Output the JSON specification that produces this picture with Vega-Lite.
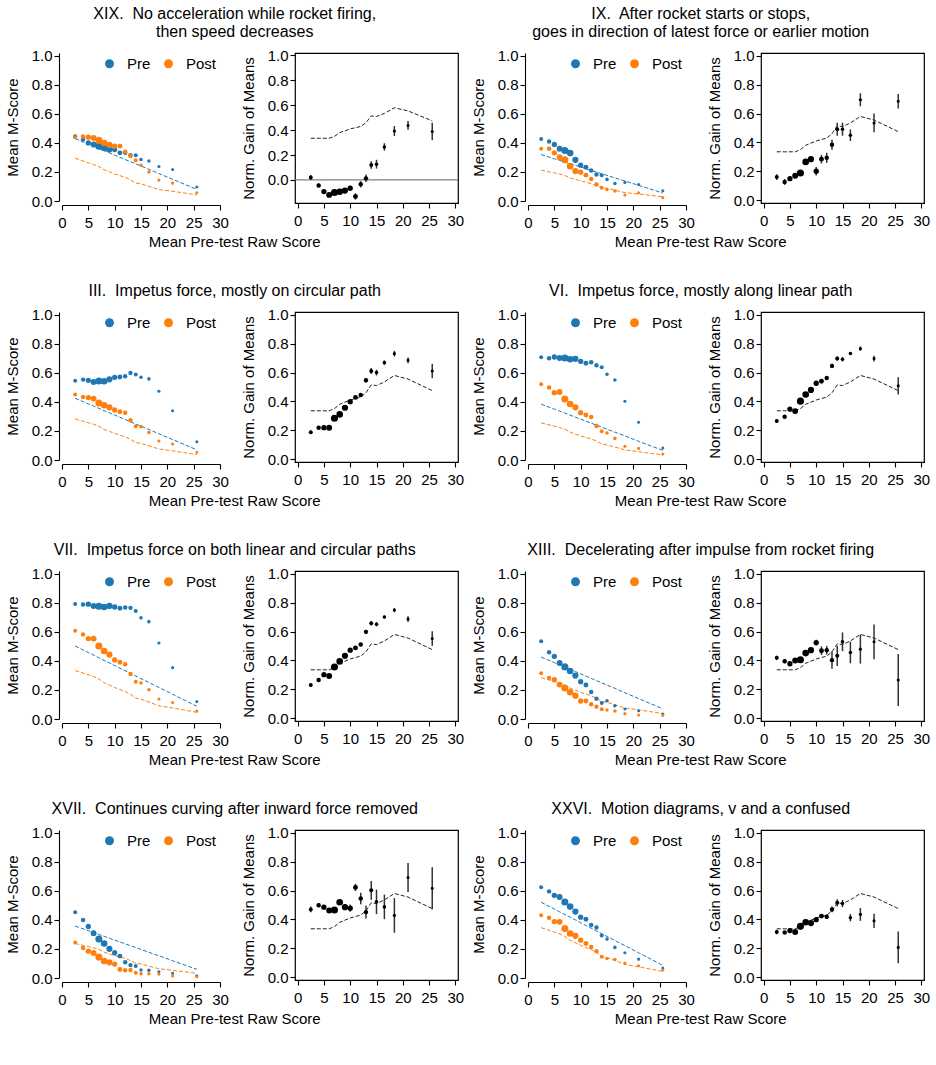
{
  "$schema": "https://vega.github.io/schema/vega-lite/v6.json",
  "background": "white",
  "padding": {"left": 5, "top": 5, "right": 5, "bottom": 5},
  "config": {
    "font": "Liberation Sans",
    "view": {"stroke": null},
    "axis": {
      "labelFont": "Liberation Sans", "labelFontSize": 15, "labelColor": "#000",
      "titleFont": "Liberation Sans", "titleFontSize": 15, "titleFontWeight": "normal", "titleColor": "#000",
      "domainColor": "#000", "domainWidth": 1.1, "tickColor": "#000", "tickWidth": 1.1, "tickSize": 5,
      "grid": false, "labelPadding": 2, "titlePadding": 11, "labelFlush": false, "labelOverlap": false
    },
    "axisX": {"labelPadding": 5},
    "legend": {
      "labelFont": "Liberation Sans", "labelFontSize": 15, "labelColor": "#000",
      "symbolSize": 80, "symbolType": "circle", "symbolStrokeWidth": 0,
      "labelOffset": 10, "columnPadding": 10, "offset": 3, "padding": 0
    },
    "title": {"font": "Liberation Sans", "fontSize": 16, "fontWeight": "normal", "color": "#000", "anchor": "middle", "lineHeight": 18, "offset": 8}
  },
  "datasets": {
    "gref": [
      {"x": 2.5, "g": 0.335}, {"x": 4, "g": 0.335}, {"x": 5, "g": 0.335}, {"x": 6, "g": 0.335},
      {"x": 7, "g": 0.35}, {"x": 8, "g": 0.38}, {"x": 9, "g": 0.395}, {"x": 10, "g": 0.41},
      {"x": 11, "g": 0.42}, {"x": 12, "g": 0.43}, {"x": 13, "g": 0.46}, {"x": 14, "g": 0.515},
      {"x": 15, "g": 0.51}, {"x": 16.5, "g": 0.535}, {"x": 18.4, "g": 0.58}, {"x": 21, "g": 0.555},
      {"x": 25.6, "g": 0.475}
    ],
    "bins": [
      {"p":"XIX","x":2.5,"n":320,"Pre":0.446,"Post":0.44,"pr":0.43,"qr":0.295,"g":0.019,"e":0.02},
      {"p":"XIX","x":4,"n":400,"Pre":0.423,"Post":0.445,"pr":0.407,"qr":0.276,"g":-0.045,"e":0.015},
      {"p":"XIX","x":5,"n":560,"Pre":0.4,"Post":0.44,"pr":0.392,"qr":0.263,"g":-0.093,"e":0.015},
      {"p":"XIX","x":6,"n":700,"Pre":0.389,"Post":0.435,"pr":0.377,"qr":0.251,"g":-0.12,"e":0.015},
      {"p":"XIX","x":7,"n":1000,"Pre":0.378,"Post":0.418,"pr":0.362,"qr":0.237,"g":-0.1,"e":0.015},
      {"p":"XIX","x":8,"n":880,"Pre":0.366,"Post":0.4,"pr":0.347,"qr":0.215,"g":-0.095,"e":0.015},
      {"p":"XIX","x":9,"n":770,"Pre":0.355,"Post":0.387,"pr":0.332,"qr":0.201,"g":-0.085,"e":0.015},
      {"p":"XIX","x":10,"n":560,"Pre":0.355,"Post":0.378,"pr":0.316,"qr":0.186,"g":-0.066,"e":0.02},
      {"p":"XIX","x":11,"n":480,"Pre":0.332,"Post":0.378,"pr":0.301,"qr":0.175,"g":-0.133,"e":0.025},
      {"p":"XIX","x":12,"n":400,"Pre":0.332,"Post":0.34,"pr":0.286,"qr":0.163,"g":-0.035,"e":0.025},
      {"p":"XIX","x":13,"n":380,"Pre":0.316,"Post":0.31,"pr":0.271,"qr":0.146,"g":0.013,"e":0.03},
      {"p":"XIX","x":14,"n":320,"Pre":0.316,"Post":0.28,"pr":0.256,"qr":0.124,"g":0.12,"e":0.03},
      {"p":"XIX","x":15,"n":250,"Pre":0.286,"Post":0.247,"pr":0.241,"qr":0.118,"g":0.127,"e":0.035},
      {"p":"XIX","x":16.5,"n":250,"Pre":0.275,"Post":0.2,"pr":0.218,"qr":0.101,"g":0.265,"e":0.03},
      {"p":"XIX","x":18.4,"n":200,"Pre":0.238,"Post":0.144,"pr":0.189,"qr":0.079,"g":0.393,"e":0.04},
      {"p":"XIX","x":21,"n":190,"Pre":0.217,"Post":0.123,"pr":0.15,"qr":0.067,"g":0.438,"e":0.035},
      {"p":"XIX","x":25.6,"n":190,"Pre":0.096,"Post":0.057,"pr":0.08,"qr":0.042,"g":0.39,"e":0.07},

      {"p":"IX","x":2.5,"n":320,"Pre":0.428,"Post":0.36,"pr":0.32,"qr":0.213,"g":0.16,"e":0.02},
      {"p":"IX","x":4,"n":400,"Pre":0.41,"Post":0.36,"pr":0.303,"qr":0.201,"g":0.126,"e":0.02},
      {"p":"IX","x":5,"n":560,"Pre":0.39,"Post":0.332,"pr":0.291,"qr":0.194,"g":0.149,"e":0.015},
      {"p":"IX","x":6,"n":700,"Pre":0.36,"Post":0.302,"pr":0.28,"qr":0.186,"g":0.169,"e":0.015},
      {"p":"IX","x":7,"n":1000,"Pre":0.348,"Post":0.284,"pr":0.268,"qr":0.176,"g":0.188,"e":0.015},
      {"p":"IX","x":8,"n":880,"Pre":0.33,"Post":0.24,"pr":0.257,"qr":0.159,"g":0.265,"e":0.015},
      {"p":"IX","x":9,"n":770,"Pre":0.284,"Post":0.206,"pr":0.246,"qr":0.149,"g":0.284,"e":0.015},
      {"p":"IX","x":10,"n":560,"Pre":0.247,"Post":0.199,"pr":0.234,"qr":0.138,"g":0.2,"e":0.03},
      {"p":"IX","x":11,"n":480,"Pre":0.233,"Post":0.178,"pr":0.222,"qr":0.129,"g":0.284,"e":0.03},
      {"p":"IX","x":12,"n":400,"Pre":0.21,"Post":0.151,"pr":0.211,"qr":0.12,"g":0.293,"e":0.035},
      {"p":"IX","x":13,"n":380,"Pre":0.183,"Post":0.114,"pr":0.199,"qr":0.107,"g":0.384,"e":0.035},
      {"p":"IX","x":14,"n":320,"Pre":0.178,"Post":0.092,"pr":0.188,"qr":0.091,"g":0.492,"e":0.045},
      {"p":"IX","x":15,"n":250,"Pre":0.149,"Post":0.08,"pr":0.177,"qr":0.087,"g":0.492,"e":0.045},
      {"p":"IX","x":16.5,"n":250,"Pre":0.121,"Post":0.069,"pr":0.159,"qr":0.074,"g":0.45,"e":0.04},
      {"p":"IX","x":18.4,"n":200,"Pre":0.128,"Post":0.041,"pr":0.138,"qr":0.058,"g":0.696,"e":0.045},
      {"p":"IX","x":21,"n":190,"Pre":0.114,"Post":0.057,"pr":0.108,"qr":0.048,"g":0.535,"e":0.065},
      {"p":"IX","x":25.6,"n":190,"Pre":0.071,"Post":0.023,"pr":0.055,"qr":0.029,"g":0.686,"e":0.05},

      {"p":"III","x":2.5,"n":320,"Pre":0.547,"Post":0.451,"pr":0.425,"qr":0.283,"g":0.186,"e":0.012},
      {"p":"III","x":4,"n":400,"Pre":0.554,"Post":0.434,"pr":0.402,"qr":0.267,"g":0.218,"e":0.01},
      {"p":"III","x":5,"n":560,"Pre":0.549,"Post":0.43,"pr":0.387,"qr":0.257,"g":0.218,"e":0.01},
      {"p":"III","x":6,"n":700,"Pre":0.538,"Post":0.423,"pr":0.371,"qr":0.247,"g":0.218,"e":0.01},
      {"p":"III","x":7,"n":1000,"Pre":0.545,"Post":0.393,"pr":0.356,"qr":0.233,"g":0.283,"e":0.01},
      {"p":"III","x":8,"n":880,"Pre":0.543,"Post":0.377,"pr":0.34,"qr":0.211,"g":0.31,"e":0.01},
      {"p":"III","x":9,"n":770,"Pre":0.556,"Post":0.363,"pr":0.325,"qr":0.197,"g":0.356,"e":0.01},
      {"p":"III","x":10,"n":560,"Pre":0.57,"Post":0.345,"pr":0.31,"qr":0.183,"g":0.398,"e":0.01},
      {"p":"III","x":11,"n":480,"Pre":0.572,"Post":0.333,"pr":0.294,"qr":0.171,"g":0.428,"e":0.01},
      {"p":"III","x":12,"n":400,"Pre":0.577,"Post":0.326,"pr":0.279,"qr":0.159,"g":0.444,"e":0.012},
      {"p":"III","x":13,"n":380,"Pre":0.6,"Post":0.274,"pr":0.263,"qr":0.142,"g":0.547,"e":0.015},
      {"p":"III","x":14,"n":320,"Pre":0.589,"Post":0.232,"pr":0.248,"qr":0.12,"g":0.611,"e":0.02},
      {"p":"III","x":15,"n":250,"Pre":0.57,"Post":0.23,"pr":0.233,"qr":0.114,"g":0.6,"e":0.02},
      {"p":"III","x":16.5,"n":250,"Pre":0.559,"Post":0.189,"pr":0.21,"qr":0.098,"g":0.669,"e":0.015},
      {"p":"III","x":18.4,"n":200,"Pre":0.474,"Post":0.131,"pr":0.181,"qr":0.076,"g":0.731,"e":0.02},
      {"p":"III","x":21,"n":190,"Pre":0.34,"Post":0.11,"pr":0.141,"qr":0.063,"g":0.685,"e":0.02},
      {"p":"III","x":25.6,"n":190,"Pre":0.126,"Post":0.053,"pr":0.07,"qr":0.037,"g":0.611,"e":0.05},

      {"p":"VI","x":2.5,"n":320,"Pre":0.708,"Post":0.522,"pr":0.385,"qr":0.256,"g":0.264,"e":0.01},
      {"p":"VI","x":4,"n":400,"Pre":0.701,"Post":0.499,"pr":0.364,"qr":0.242,"g":0.294,"e":0.01},
      {"p":"VI","x":5,"n":560,"Pre":0.71,"Post":0.464,"pr":0.351,"qr":0.233,"g":0.347,"e":0.01},
      {"p":"VI","x":6,"n":700,"Pre":0.703,"Post":0.469,"pr":0.337,"qr":0.224,"g":0.333,"e":0.01},
      {"p":"VI","x":7,"n":1000,"Pre":0.703,"Post":0.421,"pr":0.323,"qr":0.212,"g":0.402,"e":0.01},
      {"p":"VI","x":8,"n":880,"Pre":0.694,"Post":0.386,"pr":0.309,"qr":0.192,"g":0.448,"e":0.01},
      {"p":"VI","x":9,"n":770,"Pre":0.697,"Post":0.363,"pr":0.295,"qr":0.178,"g":0.48,"e":0.01},
      {"p":"VI","x":10,"n":560,"Pre":0.68,"Post":0.326,"pr":0.281,"qr":0.166,"g":0.526,"e":0.01},
      {"p":"VI","x":11,"n":480,"Pre":0.667,"Post":0.31,"pr":0.268,"qr":0.155,"g":0.54,"e":0.01},
      {"p":"VI","x":12,"n":400,"Pre":0.674,"Post":0.297,"pr":0.254,"qr":0.145,"g":0.563,"e":0.01},
      {"p":"VI","x":13,"n":380,"Pre":0.653,"Post":0.234,"pr":0.24,"qr":0.13,"g":0.646,"e":0.015},
      {"p":"VI","x":14,"n":320,"Pre":0.639,"Post":0.198,"pr":0.226,"qr":0.11,"g":0.697,"e":0.015},
      {"p":"VI","x":15,"n":250,"Pre":0.591,"Post":0.186,"pr":0.212,"qr":0.104,"g":0.692,"e":0.015},
      {"p":"VI","x":16.5,"n":250,"Pre":0.552,"Post":0.149,"pr":0.192,"qr":0.089,"g":0.733,"e":0.01},
      {"p":"VI","x":18.4,"n":200,"Pre":0.405,"Post":0.094,"pr":0.166,"qr":0.07,"g":0.766,"e":0.015},
      {"p":"VI","x":21,"n":190,"Pre":0.26,"Post":0.08,"pr":0.129,"qr":0.057,"g":0.697,"e":0.02},
      {"p":"VI","x":25.6,"n":190,"Pre":0.083,"Post":0.041,"pr":0.066,"qr":0.035,"g":0.508,"e":0.06},

      {"p":"VII","x":2.5,"n":320,"Pre":0.793,"Post":0.609,"pr":0.503,"qr":0.334,"g":0.23,"e":0.01},
      {"p":"VII","x":4,"n":400,"Pre":0.789,"Post":0.582,"pr":0.476,"qr":0.317,"g":0.264,"e":0.01},
      {"p":"VII","x":5,"n":560,"Pre":0.791,"Post":0.554,"pr":0.458,"qr":0.305,"g":0.301,"e":0.01},
      {"p":"VII","x":6,"n":700,"Pre":0.779,"Post":0.554,"pr":0.44,"qr":0.293,"g":0.292,"e":0.01},
      {"p":"VII","x":7,"n":1000,"Pre":0.777,"Post":0.503,"pr":0.422,"qr":0.276,"g":0.354,"e":0.01},
      {"p":"VII","x":8,"n":880,"Pre":0.772,"Post":0.469,"pr":0.404,"qr":0.25,"g":0.393,"e":0.01},
      {"p":"VII","x":9,"n":770,"Pre":0.779,"Post":0.444,"pr":0.386,"qr":0.234,"g":0.432,"e":0.01},
      {"p":"VII","x":10,"n":560,"Pre":0.772,"Post":0.407,"pr":0.368,"qr":0.217,"g":0.471,"e":0.01},
      {"p":"VII","x":11,"n":480,"Pre":0.763,"Post":0.391,"pr":0.35,"qr":0.203,"g":0.487,"e":0.01},
      {"p":"VII","x":12,"n":400,"Pre":0.768,"Post":0.377,"pr":0.332,"qr":0.189,"g":0.51,"e":0.01},
      {"p":"VII","x":13,"n":380,"Pre":0.766,"Post":0.31,"pr":0.314,"qr":0.17,"g":0.598,"e":0.015},
      {"p":"VII","x":14,"n":320,"Pre":0.745,"Post":0.257,"pr":0.296,"qr":0.144,"g":0.657,"e":0.015},
      {"p":"VII","x":15,"n":250,"Pre":0.697,"Post":0.248,"pr":0.278,"qr":0.136,"g":0.651,"e":0.015},
      {"p":"VII","x":16.5,"n":250,"Pre":0.671,"Post":0.202,"pr":0.252,"qr":0.117,"g":0.701,"e":0.01},
      {"p":"VII","x":18.4,"n":200,"Pre":0.524,"Post":0.138,"pr":0.217,"qr":0.091,"g":0.749,"e":0.015},
      {"p":"VII","x":21,"n":190,"Pre":0.354,"Post":0.113,"pr":0.171,"qr":0.076,"g":0.687,"e":0.02},
      {"p":"VII","x":25.6,"n":190,"Pre":0.12,"Post":0.055,"pr":0.088,"qr":0.046,"g":0.552,"e":0.05},

      {"p":"XIII","x":2.5,"n":320,"Pre":0.536,"Post":0.315,"pr":0.427,"qr":0.284,"g":0.418,"e":0.015},
      {"p":"XIII","x":4,"n":400,"Pre":0.46,"Post":0.283,"pr":0.404,"qr":0.269,"g":0.395,"e":0.015},
      {"p":"XIII","x":5,"n":560,"Pre":0.432,"Post":0.271,"pr":0.388,"qr":0.258,"g":0.377,"e":0.015},
      {"p":"XIII","x":6,"n":700,"Pre":0.386,"Post":0.237,"pr":0.373,"qr":0.248,"g":0.4,"e":0.015},
      {"p":"XIII","x":7,"n":1000,"Pre":0.359,"Post":0.214,"pr":0.357,"qr":0.234,"g":0.405,"e":0.015},
      {"p":"XIII","x":8,"n":880,"Pre":0.331,"Post":0.184,"pr":0.342,"qr":0.212,"g":0.451,"e":0.015},
      {"p":"XIII","x":9,"n":770,"Pre":0.299,"Post":0.161,"pr":0.327,"qr":0.198,"g":0.471,"e":0.015},
      {"p":"XIII","x":10,"n":560,"Pre":0.257,"Post":0.124,"pr":0.311,"qr":0.183,"g":0.524,"e":0.02},
      {"p":"XIII","x":11,"n":480,"Pre":0.234,"Post":0.124,"pr":0.296,"qr":0.172,"g":0.467,"e":0.03},
      {"p":"XIII","x":12,"n":400,"Pre":0.186,"Post":0.101,"pr":0.28,"qr":0.16,"g":0.471,"e":0.03},
      {"p":"XIII","x":13,"n":380,"Pre":0.14,"Post":0.085,"pr":0.265,"qr":0.143,"g":0.402,"e":0.06},
      {"p":"XIII","x":14,"n":320,"Pre":0.11,"Post":0.067,"pr":0.249,"qr":0.121,"g":0.432,"e":0.07},
      {"p":"XIII","x":15,"n":250,"Pre":0.126,"Post":0.062,"pr":0.234,"qr":0.115,"g":0.529,"e":0.065},
      {"p":"XIII","x":16.5,"n":250,"Pre":0.092,"Post":0.055,"pr":0.211,"qr":0.098,"g":0.455,"e":0.075},
      {"p":"XIII","x":18.4,"n":200,"Pre":0.069,"Post":0.037,"pr":0.181,"qr":0.076,"g":0.478,"e":0.1},
      {"p":"XIII","x":21,"n":190,"Pre":0.057,"Post":0.028,"pr":0.141,"qr":0.063,"g":0.529,"e":0.12},
      {"p":"XIII","x":25.6,"n":190,"Pre":0.034,"Post":0.025,"pr":0.07,"qr":0.037,"g":0.264,"e":0.18},

      {"p":"XVII","x":2.5,"n":320,"Pre":0.453,"Post":0.245,"pr":0.358,"qr":0.238,"g":0.469,"e":0.02},
      {"p":"XVII","x":4,"n":400,"Pre":0.4,"Post":0.206,"pr":0.339,"qr":0.225,"g":0.499,"e":0.015},
      {"p":"XVII","x":5,"n":560,"Pre":0.355,"Post":0.185,"pr":0.326,"qr":0.217,"g":0.485,"e":0.015},
      {"p":"XVII","x":6,"n":700,"Pre":0.309,"Post":0.172,"pr":0.313,"qr":0.208,"g":0.462,"e":0.015},
      {"p":"XVII","x":7,"n":1000,"Pre":0.268,"Post":0.144,"pr":0.3,"qr":0.197,"g":0.465,"e":0.015},
      {"p":"XVII","x":8,"n":880,"Pre":0.238,"Post":0.117,"pr":0.287,"qr":0.178,"g":0.519,"e":0.015},
      {"p":"XVII","x":9,"n":770,"Pre":0.201,"Post":0.108,"pr":0.274,"qr":0.166,"g":0.485,"e":0.02},
      {"p":"XVII","x":10,"n":560,"Pre":0.174,"Post":0.096,"pr":0.261,"qr":0.154,"g":0.478,"e":0.025},
      {"p":"XVII","x":11,"n":480,"Pre":0.151,"Post":0.059,"pr":0.248,"qr":0.144,"g":0.622,"e":0.025},
      {"p":"XVII","x":12,"n":400,"Pre":0.108,"Post":0.053,"pr":0.236,"qr":0.135,"g":0.545,"e":0.04},
      {"p":"XVII","x":13,"n":380,"Pre":0.089,"Post":0.055,"pr":0.223,"qr":0.12,"g":0.451,"e":0.045},
      {"p":"XVII","x":14,"n":320,"Pre":0.082,"Post":0.037,"pr":0.21,"qr":0.102,"g":0.602,"e":0.065},
      {"p":"XVII","x":15,"n":250,"Pre":0.055,"Post":0.03,"pr":0.197,"qr":0.097,"g":0.522,"e":0.085},
      {"p":"XVII","x":16.5,"n":250,"Pre":0.053,"Post":0.03,"pr":0.177,"qr":0.082,"g":0.487,"e":0.085},
      {"p":"XVII","x":18.4,"n":200,"Pre":0.043,"Post":0.027,"pr":0.153,"qr":0.064,"g":0.428,"e":0.12},
      {"p":"XVII","x":21,"n":190,"Pre":0.032,"Post":0.014,"pr":0.119,"qr":0.053,"g":0.691,"e":0.1},
      {"p":"XVII","x":25.6,"n":190,"Pre":0.016,"Post":0.009,"pr":0.06,"qr":0.032,"g":0.616,"e":0.145},

      {"p":"XXVI","x":2.5,"n":320,"Pre":0.625,"Post":0.432,"pr":0.522,"qr":0.347,"g":0.313,"e":0.015},
      {"p":"XXVI","x":4,"n":400,"Pre":0.597,"Post":0.416,"pr":0.494,"qr":0.329,"g":0.309,"e":0.01},
      {"p":"XXVI","x":5,"n":560,"Pre":0.57,"Post":0.389,"pr":0.475,"qr":0.316,"g":0.323,"e":0.01},
      {"p":"XXVI","x":6,"n":700,"Pre":0.558,"Post":0.387,"pr":0.456,"qr":0.303,"g":0.313,"e":0.01},
      {"p":"XXVI","x":7,"n":1000,"Pre":0.524,"Post":0.341,"pr":0.437,"qr":0.286,"g":0.352,"e":0.01},
      {"p":"XXVI","x":8,"n":880,"Pre":0.492,"Post":0.307,"pr":0.419,"qr":0.26,"g":0.38,"e":0.01},
      {"p":"XXVI","x":9,"n":770,"Pre":0.458,"Post":0.291,"pr":0.4,"qr":0.242,"g":0.375,"e":0.01},
      {"p":"XXVI","x":10,"n":560,"Pre":0.419,"Post":0.261,"pr":0.381,"qr":0.225,"g":0.398,"e":0.01},
      {"p":"XXVI","x":11,"n":480,"Pre":0.405,"Post":0.238,"pr":0.362,"qr":0.21,"g":0.423,"e":0.01},
      {"p":"XXVI","x":12,"n":400,"Pre":0.366,"Post":0.213,"pr":0.343,"qr":0.196,"g":0.419,"e":0.015},
      {"p":"XXVI","x":13,"n":380,"Pre":0.348,"Post":0.185,"pr":0.324,"qr":0.175,"g":0.469,"e":0.02},
      {"p":"XXVI","x":14,"n":320,"Pre":0.293,"Post":0.146,"pr":0.305,"qr":0.148,"g":0.515,"e":0.025},
      {"p":"XXVI","x":15,"n":250,"Pre":0.268,"Post":0.135,"pr":0.287,"qr":0.141,"g":0.51,"e":0.025},
      {"p":"XXVI","x":16.5,"n":250,"Pre":0.211,"Post":0.128,"pr":0.258,"qr":0.12,"g":0.412,"e":0.025},
      {"p":"XXVI","x":18.4,"n":200,"Pre":0.174,"Post":0.103,"pr":0.223,"qr":0.094,"g":0.435,"e":0.045},
      {"p":"XXVI","x":21,"n":190,"Pre":0.13,"Post":0.085,"pr":0.174,"qr":0.077,"g":0.39,"e":0.05},
      {"p":"XXVI","x":25.6,"n":190,"Pre":0.069,"Post":0.055,"pr":0.087,"qr":0.046,"g":0.206,"e":0.11}
    ]
  },
  "spacing": 33,
  "resolve": {"scale": {"x": "independent", "y": "independent", "color": "independent", "size": "independent"}, "legend": {"color": "independent", "size": "independent"}},
  "vconcat": [
    {
      "spacing": 6,
      "resolve": {"scale": {"x": "independent", "y": "independent", "color": "independent", "size": "independent"}, "legend": {"color": "independent", "size": "independent"}},
      "hconcat": [
        {
          "title": {"text": ["XIX.\u00a0 No acceleration while rocket firing,", "then speed decreases"], "anchor": "middle"},
          "resolve": {"scale": {"x": "independent", "y": "independent", "color": "independent", "size": "independent"}, "legend": {"color": "independent", "size": "independent"}},
          "vconcat": [
            {
              "title": {"text": "Mean Pre-test Raw Score", "orient": "bottom", "fontSize": 15, "offset": 5, "anchor": "middle"},
              "spacing": 11,
              "resolve": {"scale": {"x": "independent", "y": "independent", "color": "independent", "size": "independent"}, "legend": {"color": "independent", "size": "independent"}},
              "hconcat": [
                {
                  "width": 158, "height": 148,
                  "data": {"name": "bins"},
                  "transform": [{"filter": "datum.p === 'XIX'"}],
                  "encoding": {"x": {"field": "x", "type": "quantitative", "scale": {"domain": [0, 30], "nice": false, "zero": false}, "axis": {"values": [0, 5, 10, 15, 20, 25, 30], "title": null, "offset": 4}}},
                  "layer": [
                    {"mark": {"type": "line", "color": "#1f77b4", "strokeWidth": 1, "strokeDash": [4, 2]},
                     "encoding": {"y": {"field": "pr", "type": "quantitative", "scale": {"domain": [0, 1.02], "nice": false, "zero": false}, "axis": {"values": [0, 0.2, 0.4, 0.6, 0.8, 1], "format": ".1f", "offset": 3, "title": "Mean M-Score"}}}},
                    {"mark": {"type": "line", "color": "#ff7f0e", "strokeWidth": 1, "strokeDash": [4, 2]},
                     "encoding": {"y": {"field": "qr", "type": "quantitative", "axis": {"values": [0, 0.2, 0.4, 0.6, 0.8, 1], "format": ".1f", "offset": 3, "title": "Mean M-Score"}}}},
                    {"transform": [{"fold": ["Pre", "Post"], "as": ["series", "score"]}],
                     "mark": {"type": "circle", "opacity": 1},
                     "encoding": {
                       "y": {"field": "score", "type": "quantitative", "axis": {"values": [0, 0.2, 0.4, 0.6, 0.8, 1], "format": ".1f", "offset": 3, "title": "Mean M-Score"}},
                       "color": {"field": "series", "type": "nominal", "scale": {"domain": ["Pre", "Post"], "range": ["#1f77b4", "#ff7f0e"]}, "legend": {"orient": "top-right", "direction": "horizontal", "title": null}},
                       "size": {"field": "n", "type": "quantitative", "scale": {"domain": [0, 1000], "range": [0, 50]}, "legend": null}}}
                  ]
                },
                {
                  "width": 163, "height": 150,
                  "view": {"stroke": "#000", "strokeWidth": 1.2},
                  "layer": [
                    {"data": {"values": [{}]},
                     "mark": {"type": "rule", "color": "#808080", "strokeWidth": 1.2},
                     "encoding": {"y": {"datum": 0, "type": "quantitative", "scale": {"domain": [-0.185, 1.02], "nice": false, "zero": false}, "axis": {"values": [0, 0.2, 0.4, 0.6, 0.8, 1], "format": ".1f", "title": "Norm. Gain of Means", "domain": false}}}},
                    {"data": {"name": "gref"},
                     "mark": {"type": "line", "color": "#222", "strokeWidth": 1, "strokeDash": [4, 2]},
                     "encoding": {
                       "x": {"field": "x", "type": "quantitative", "scale": {"domain": [-0.5, 30.5], "nice": false, "zero": false}, "axis": {"values": [0, 5, 10, 15, 20, 25, 30], "title": null, "domain": false}},
                       "y": {"field": "g", "type": "quantitative", "axis": {"values": [0, 0.2, 0.4, 0.6, 0.8, 1], "format": ".1f", "title": "Norm. Gain of Means", "domain": false}}}},
                    {"data": {"name": "bins"},
                     "transform": [{"filter": "datum.p === 'XIX'"}],
                     "mark": {"type": "errorbar", "color": "#333", "thickness": 1.5},
                     "encoding": {
                       "x": {"field": "x", "type": "quantitative", "axis": {"values": [0, 5, 10, 15, 20, 25, 30], "title": null, "domain": false}},
                       "y": {"field": "g", "type": "quantitative", "axis": {"values": [0, 0.2, 0.4, 0.6, 0.8, 1], "format": ".1f", "title": "Norm. Gain of Means", "domain": false}},
                       "yError": {"field": "e"}}},
                    {"data": {"name": "bins"},
                     "transform": [{"filter": "datum.p === 'XIX'"}],
                     "mark": {"type": "circle", "color": "#000", "opacity": 1},
                     "encoding": {
                       "x": {"field": "x", "type": "quantitative", "axis": {"values": [0, 5, 10, 15, 20, 25, 30], "title": null, "domain": false}},
                       "y": {"field": "g", "type": "quantitative", "axis": {"values": [0, 0.2, 0.4, 0.6, 0.8, 1], "format": ".1f", "title": "Norm. Gain of Means", "domain": false}},
                       "size": {"field": "n", "type": "quantitative", "scale": {"domain": [0, 1000], "range": [0, 50]}, "legend": null}}}
                  ]
                }
              ]
            }
          ]
        },
        {
          "title": {"text": ["IX.\u00a0 After rocket starts or stops,", "goes in direction of latest force or earlier motion"], "anchor": "middle"},
          "resolve": {"scale": {"x": "independent", "y": "independent", "color": "independent", "size": "independent"}, "legend": {"color": "independent", "size": "independent"}},
          "vconcat": [
            {
              "title": {"text": "Mean Pre-test Raw Score", "orient": "bottom", "fontSize": 15, "offset": 5, "anchor": "middle"},
              "spacing": 11,
              "resolve": {"scale": {"x": "independent", "y": "independent", "color": "independent", "size": "independent"}, "legend": {"color": "independent", "size": "independent"}},
              "hconcat": [
                {
                  "width": 158, "height": 148,
                  "data": {"name": "bins"},
                  "transform": [{"filter": "datum.p === 'IX'"}],
                  "encoding": {"x": {"field": "x", "type": "quantitative", "scale": {"domain": [0, 30], "nice": false, "zero": false}, "axis": {"values": [0, 5, 10, 15, 20, 25, 30], "title": null, "offset": 4}}},
                  "layer": [
                    {"mark": {"type": "line", "color": "#1f77b4", "strokeWidth": 1, "strokeDash": [4, 2]},
                     "encoding": {"y": {"field": "pr", "type": "quantitative", "scale": {"domain": [0, 1.02], "nice": false, "zero": false}, "axis": {"values": [0, 0.2, 0.4, 0.6, 0.8, 1], "format": ".1f", "offset": 3, "title": "Mean M-Score"}}}},
                    {"mark": {"type": "line", "color": "#ff7f0e", "strokeWidth": 1, "strokeDash": [4, 2]},
                     "encoding": {"y": {"field": "qr", "type": "quantitative", "axis": {"values": [0, 0.2, 0.4, 0.6, 0.8, 1], "format": ".1f", "offset": 3, "title": "Mean M-Score"}}}},
                    {"transform": [{"fold": ["Pre", "Post"], "as": ["series", "score"]}],
                     "mark": {"type": "circle", "opacity": 1},
                     "encoding": {
                       "y": {"field": "score", "type": "quantitative", "axis": {"values": [0, 0.2, 0.4, 0.6, 0.8, 1], "format": ".1f", "offset": 3, "title": "Mean M-Score"}},
                       "color": {"field": "series", "type": "nominal", "scale": {"domain": ["Pre", "Post"], "range": ["#1f77b4", "#ff7f0e"]}, "legend": {"orient": "top-right", "direction": "horizontal", "title": null}},
                       "size": {"field": "n", "type": "quantitative", "scale": {"domain": [0, 1000], "range": [0, 50]}, "legend": null}}}
                  ]
                },
                {
                  "width": 163, "height": 150,
                  "view": {"stroke": "#000", "strokeWidth": 1.2},
                  "layer": [
                    {"data": {"name": "gref"},
                     "mark": {"type": "line", "color": "#222", "strokeWidth": 1, "strokeDash": [4, 2]},
                     "encoding": {
                       "x": {"field": "x", "type": "quantitative", "scale": {"domain": [-0.5, 30.5], "nice": false, "zero": false}, "axis": {"values": [0, 5, 10, 15, 20, 25, 30], "title": null, "domain": false}},
                       "y": {"field": "g", "type": "quantitative", "scale": {"domain": [-0.02, 1.02], "nice": false, "zero": false}, "axis": {"values": [0, 0.2, 0.4, 0.6, 0.8, 1], "format": ".1f", "title": "Norm. Gain of Means", "domain": false}}}},
                    {"data": {"name": "bins"},
                     "transform": [{"filter": "datum.p === 'IX'"}],
                     "mark": {"type": "errorbar", "color": "#333", "thickness": 1.5},
                     "encoding": {
                       "x": {"field": "x", "type": "quantitative", "axis": {"values": [0, 5, 10, 15, 20, 25, 30], "title": null, "domain": false}},
                       "y": {"field": "g", "type": "quantitative", "axis": {"values": [0, 0.2, 0.4, 0.6, 0.8, 1], "format": ".1f", "title": "Norm. Gain of Means", "domain": false}},
                       "yError": {"field": "e"}}},
                    {"data": {"name": "bins"},
                     "transform": [{"filter": "datum.p === 'IX'"}],
                     "mark": {"type": "circle", "color": "#000", "opacity": 1},
                     "encoding": {
                       "x": {"field": "x", "type": "quantitative", "axis": {"values": [0, 5, 10, 15, 20, 25, 30], "title": null, "domain": false}},
                       "y": {"field": "g", "type": "quantitative", "axis": {"values": [0, 0.2, 0.4, 0.6, 0.8, 1], "format": ".1f", "title": "Norm. Gain of Means", "domain": false}},
                       "size": {"field": "n", "type": "quantitative", "scale": {"domain": [0, 1000], "range": [0, 50]}, "legend": null}}}
                  ]
                }
              ]
            }
          ]
        }
      ]
    },
    {
      "spacing": 6,
      "resolve": {"scale": {"x": "independent", "y": "independent", "color": "independent", "size": "independent"}, "legend": {"color": "independent", "size": "independent"}},
      "hconcat": [
        {
          "title": {"text": "III.\u00a0 Impetus force, mostly on circular path", "anchor": "middle"},
          "resolve": {"scale": {"x": "independent", "y": "independent", "color": "independent", "size": "independent"}, "legend": {"color": "independent", "size": "independent"}},
          "vconcat": [
            {
              "title": {"text": "Mean Pre-test Raw Score", "orient": "bottom", "fontSize": 15, "offset": 5, "anchor": "middle"},
              "spacing": 11,
              "resolve": {"scale": {"x": "independent", "y": "independent", "color": "independent", "size": "independent"}, "legend": {"color": "independent", "size": "independent"}},
              "hconcat": [
                {
                  "width": 158, "height": 148,
                  "data": {"name": "bins"},
                  "transform": [{"filter": "datum.p === 'III'"}],
                  "encoding": {"x": {"field": "x", "type": "quantitative", "scale": {"domain": [0, 30], "nice": false, "zero": false}, "axis": {"values": [0, 5, 10, 15, 20, 25, 30], "title": null, "offset": 4}}},
                  "layer": [
                    {"mark": {"type": "line", "color": "#1f77b4", "strokeWidth": 1, "strokeDash": [4, 2]},
                     "encoding": {"y": {"field": "pr", "type": "quantitative", "scale": {"domain": [0, 1.02], "nice": false, "zero": false}, "axis": {"values": [0, 0.2, 0.4, 0.6, 0.8, 1], "format": ".1f", "offset": 3, "title": "Mean M-Score"}}}},
                    {"mark": {"type": "line", "color": "#ff7f0e", "strokeWidth": 1, "strokeDash": [4, 2]},
                     "encoding": {"y": {"field": "qr", "type": "quantitative", "axis": {"values": [0, 0.2, 0.4, 0.6, 0.8, 1], "format": ".1f", "offset": 3, "title": "Mean M-Score"}}}},
                    {"transform": [{"fold": ["Pre", "Post"], "as": ["series", "score"]}],
                     "mark": {"type": "circle", "opacity": 1},
                     "encoding": {
                       "y": {"field": "score", "type": "quantitative", "axis": {"values": [0, 0.2, 0.4, 0.6, 0.8, 1], "format": ".1f", "offset": 3, "title": "Mean M-Score"}},
                       "color": {"field": "series", "type": "nominal", "scale": {"domain": ["Pre", "Post"], "range": ["#1f77b4", "#ff7f0e"]}, "legend": {"orient": "top-right", "direction": "horizontal", "title": null}},
                       "size": {"field": "n", "type": "quantitative", "scale": {"domain": [0, 1000], "range": [0, 50]}, "legend": null}}}
                  ]
                },
                {
                  "width": 163, "height": 150,
                  "view": {"stroke": "#000", "strokeWidth": 1.2},
                  "layer": [
                    {"data": {"name": "gref"},
                     "mark": {"type": "line", "color": "#222", "strokeWidth": 1, "strokeDash": [4, 2]},
                     "encoding": {
                       "x": {"field": "x", "type": "quantitative", "scale": {"domain": [-0.5, 30.5], "nice": false, "zero": false}, "axis": {"values": [0, 5, 10, 15, 20, 25, 30], "title": null, "domain": false}},
                       "y": {"field": "g", "type": "quantitative", "scale": {"domain": [-0.02, 1.02], "nice": false, "zero": false}, "axis": {"values": [0, 0.2, 0.4, 0.6, 0.8, 1], "format": ".1f", "title": "Norm. Gain of Means", "domain": false}}}},
                    {"data": {"name": "bins"},
                     "transform": [{"filter": "datum.p === 'III'"}],
                     "mark": {"type": "errorbar", "color": "#333", "thickness": 1.5},
                     "encoding": {
                       "x": {"field": "x", "type": "quantitative", "axis": {"values": [0, 5, 10, 15, 20, 25, 30], "title": null, "domain": false}},
                       "y": {"field": "g", "type": "quantitative", "axis": {"values": [0, 0.2, 0.4, 0.6, 0.8, 1], "format": ".1f", "title": "Norm. Gain of Means", "domain": false}},
                       "yError": {"field": "e"}}},
                    {"data": {"name": "bins"},
                     "transform": [{"filter": "datum.p === 'III'"}],
                     "mark": {"type": "circle", "color": "#000", "opacity": 1},
                     "encoding": {
                       "x": {"field": "x", "type": "quantitative", "axis": {"values": [0, 5, 10, 15, 20, 25, 30], "title": null, "domain": false}},
                       "y": {"field": "g", "type": "quantitative", "axis": {"values": [0, 0.2, 0.4, 0.6, 0.8, 1], "format": ".1f", "title": "Norm. Gain of Means", "domain": false}},
                       "size": {"field": "n", "type": "quantitative", "scale": {"domain": [0, 1000], "range": [0, 50]}, "legend": null}}}
                  ]
                }
              ]
            }
          ]
        },
        {
          "title": {"text": "VI.\u00a0 Impetus force, mostly along linear path", "anchor": "middle"},
          "resolve": {"scale": {"x": "independent", "y": "independent", "color": "independent", "size": "independent"}, "legend": {"color": "independent", "size": "independent"}},
          "vconcat": [
            {
              "title": {"text": "Mean Pre-test Raw Score", "orient": "bottom", "fontSize": 15, "offset": 5, "anchor": "middle"},
              "spacing": 11,
              "resolve": {"scale": {"x": "independent", "y": "independent", "color": "independent", "size": "independent"}, "legend": {"color": "independent", "size": "independent"}},
              "hconcat": [
                {
                  "width": 158, "height": 148,
                  "data": {"name": "bins"},
                  "transform": [{"filter": "datum.p === 'VI'"}],
                  "encoding": {"x": {"field": "x", "type": "quantitative", "scale": {"domain": [0, 30], "nice": false, "zero": false}, "axis": {"values": [0, 5, 10, 15, 20, 25, 30], "title": null, "offset": 4}}},
                  "layer": [
                    {"mark": {"type": "line", "color": "#1f77b4", "strokeWidth": 1, "strokeDash": [4, 2]},
                     "encoding": {"y": {"field": "pr", "type": "quantitative", "scale": {"domain": [0, 1.02], "nice": false, "zero": false}, "axis": {"values": [0, 0.2, 0.4, 0.6, 0.8, 1], "format": ".1f", "offset": 3, "title": "Mean M-Score"}}}},
                    {"mark": {"type": "line", "color": "#ff7f0e", "strokeWidth": 1, "strokeDash": [4, 2]},
                     "encoding": {"y": {"field": "qr", "type": "quantitative", "axis": {"values": [0, 0.2, 0.4, 0.6, 0.8, 1], "format": ".1f", "offset": 3, "title": "Mean M-Score"}}}},
                    {"transform": [{"fold": ["Pre", "Post"], "as": ["series", "score"]}],
                     "mark": {"type": "circle", "opacity": 1},
                     "encoding": {
                       "y": {"field": "score", "type": "quantitative", "axis": {"values": [0, 0.2, 0.4, 0.6, 0.8, 1], "format": ".1f", "offset": 3, "title": "Mean M-Score"}},
                       "color": {"field": "series", "type": "nominal", "scale": {"domain": ["Pre", "Post"], "range": ["#1f77b4", "#ff7f0e"]}, "legend": {"orient": "top-right", "direction": "horizontal", "title": null}},
                       "size": {"field": "n", "type": "quantitative", "scale": {"domain": [0, 1000], "range": [0, 50]}, "legend": null}}}
                  ]
                },
                {
                  "width": 163, "height": 150,
                  "view": {"stroke": "#000", "strokeWidth": 1.2},
                  "layer": [
                    {"data": {"name": "gref"},
                     "mark": {"type": "line", "color": "#222", "strokeWidth": 1, "strokeDash": [4, 2]},
                     "encoding": {
                       "x": {"field": "x", "type": "quantitative", "scale": {"domain": [-0.5, 30.5], "nice": false, "zero": false}, "axis": {"values": [0, 5, 10, 15, 20, 25, 30], "title": null, "domain": false}},
                       "y": {"field": "g", "type": "quantitative", "scale": {"domain": [-0.02, 1.02], "nice": false, "zero": false}, "axis": {"values": [0, 0.2, 0.4, 0.6, 0.8, 1], "format": ".1f", "title": "Norm. Gain of Means", "domain": false}}}},
                    {"data": {"name": "bins"},
                     "transform": [{"filter": "datum.p === 'VI'"}],
                     "mark": {"type": "errorbar", "color": "#333", "thickness": 1.5},
                     "encoding": {
                       "x": {"field": "x", "type": "quantitative", "axis": {"values": [0, 5, 10, 15, 20, 25, 30], "title": null, "domain": false}},
                       "y": {"field": "g", "type": "quantitative", "axis": {"values": [0, 0.2, 0.4, 0.6, 0.8, 1], "format": ".1f", "title": "Norm. Gain of Means", "domain": false}},
                       "yError": {"field": "e"}}},
                    {"data": {"name": "bins"},
                     "transform": [{"filter": "datum.p === 'VI'"}],
                     "mark": {"type": "circle", "color": "#000", "opacity": 1},
                     "encoding": {
                       "x": {"field": "x", "type": "quantitative", "axis": {"values": [0, 5, 10, 15, 20, 25, 30], "title": null, "domain": false}},
                       "y": {"field": "g", "type": "quantitative", "axis": {"values": [0, 0.2, 0.4, 0.6, 0.8, 1], "format": ".1f", "title": "Norm. Gain of Means", "domain": false}},
                       "size": {"field": "n", "type": "quantitative", "scale": {"domain": [0, 1000], "range": [0, 50]}, "legend": null}}}
                  ]
                }
              ]
            }
          ]
        }
      ]
    },
    {
      "spacing": 6,
      "resolve": {"scale": {"x": "independent", "y": "independent", "color": "independent", "size": "independent"}, "legend": {"color": "independent", "size": "independent"}},
      "hconcat": [
        {
          "title": {"text": "VII.\u00a0 Impetus force on both linear and circular paths", "anchor": "middle"},
          "resolve": {"scale": {"x": "independent", "y": "independent", "color": "independent", "size": "independent"}, "legend": {"color": "independent", "size": "independent"}},
          "vconcat": [
            {
              "title": {"text": "Mean Pre-test Raw Score", "orient": "bottom", "fontSize": 15, "offset": 5, "anchor": "middle"},
              "spacing": 11,
              "resolve": {"scale": {"x": "independent", "y": "independent", "color": "independent", "size": "independent"}, "legend": {"color": "independent", "size": "independent"}},
              "hconcat": [
                {
                  "width": 158, "height": 148,
                  "data": {"name": "bins"},
                  "transform": [{"filter": "datum.p === 'VII'"}],
                  "encoding": {"x": {"field": "x", "type": "quantitative", "scale": {"domain": [0, 30], "nice": false, "zero": false}, "axis": {"values": [0, 5, 10, 15, 20, 25, 30], "title": null, "offset": 4}}},
                  "layer": [
                    {"mark": {"type": "line", "color": "#1f77b4", "strokeWidth": 1, "strokeDash": [4, 2]},
                     "encoding": {"y": {"field": "pr", "type": "quantitative", "scale": {"domain": [0, 1.02], "nice": false, "zero": false}, "axis": {"values": [0, 0.2, 0.4, 0.6, 0.8, 1], "format": ".1f", "offset": 3, "title": "Mean M-Score"}}}},
                    {"mark": {"type": "line", "color": "#ff7f0e", "strokeWidth": 1, "strokeDash": [4, 2]},
                     "encoding": {"y": {"field": "qr", "type": "quantitative", "axis": {"values": [0, 0.2, 0.4, 0.6, 0.8, 1], "format": ".1f", "offset": 3, "title": "Mean M-Score"}}}},
                    {"transform": [{"fold": ["Pre", "Post"], "as": ["series", "score"]}],
                     "mark": {"type": "circle", "opacity": 1},
                     "encoding": {
                       "y": {"field": "score", "type": "quantitative", "axis": {"values": [0, 0.2, 0.4, 0.6, 0.8, 1], "format": ".1f", "offset": 3, "title": "Mean M-Score"}},
                       "color": {"field": "series", "type": "nominal", "scale": {"domain": ["Pre", "Post"], "range": ["#1f77b4", "#ff7f0e"]}, "legend": {"orient": "top-right", "direction": "horizontal", "title": null}},
                       "size": {"field": "n", "type": "quantitative", "scale": {"domain": [0, 1000], "range": [0, 50]}, "legend": null}}}
                  ]
                },
                {
                  "width": 163, "height": 150,
                  "view": {"stroke": "#000", "strokeWidth": 1.2},
                  "layer": [
                    {"data": {"name": "gref"},
                     "mark": {"type": "line", "color": "#222", "strokeWidth": 1, "strokeDash": [4, 2]},
                     "encoding": {
                       "x": {"field": "x", "type": "quantitative", "scale": {"domain": [-0.5, 30.5], "nice": false, "zero": false}, "axis": {"values": [0, 5, 10, 15, 20, 25, 30], "title": null, "domain": false}},
                       "y": {"field": "g", "type": "quantitative", "scale": {"domain": [-0.02, 1.02], "nice": false, "zero": false}, "axis": {"values": [0, 0.2, 0.4, 0.6, 0.8, 1], "format": ".1f", "title": "Norm. Gain of Means", "domain": false}}}},
                    {"data": {"name": "bins"},
                     "transform": [{"filter": "datum.p === 'VII'"}],
                     "mark": {"type": "errorbar", "color": "#333", "thickness": 1.5},
                     "encoding": {
                       "x": {"field": "x", "type": "quantitative", "axis": {"values": [0, 5, 10, 15, 20, 25, 30], "title": null, "domain": false}},
                       "y": {"field": "g", "type": "quantitative", "axis": {"values": [0, 0.2, 0.4, 0.6, 0.8, 1], "format": ".1f", "title": "Norm. Gain of Means", "domain": false}},
                       "yError": {"field": "e"}}},
                    {"data": {"name": "bins"},
                     "transform": [{"filter": "datum.p === 'VII'"}],
                     "mark": {"type": "circle", "color": "#000", "opacity": 1},
                     "encoding": {
                       "x": {"field": "x", "type": "quantitative", "axis": {"values": [0, 5, 10, 15, 20, 25, 30], "title": null, "domain": false}},
                       "y": {"field": "g", "type": "quantitative", "axis": {"values": [0, 0.2, 0.4, 0.6, 0.8, 1], "format": ".1f", "title": "Norm. Gain of Means", "domain": false}},
                       "size": {"field": "n", "type": "quantitative", "scale": {"domain": [0, 1000], "range": [0, 50]}, "legend": null}}}
                  ]
                }
              ]
            }
          ]
        },
        {
          "title": {"text": "XIII.\u00a0 Decelerating after impulse from rocket firing", "anchor": "middle"},
          "resolve": {"scale": {"x": "independent", "y": "independent", "color": "independent", "size": "independent"}, "legend": {"color": "independent", "size": "independent"}},
          "vconcat": [
            {
              "title": {"text": "Mean Pre-test Raw Score", "orient": "bottom", "fontSize": 15, "offset": 5, "anchor": "middle"},
              "spacing": 11,
              "resolve": {"scale": {"x": "independent", "y": "independent", "color": "independent", "size": "independent"}, "legend": {"color": "independent", "size": "independent"}},
              "hconcat": [
                {
                  "width": 158, "height": 148,
                  "data": {"name": "bins"},
                  "transform": [{"filter": "datum.p === 'XIII'"}],
                  "encoding": {"x": {"field": "x", "type": "quantitative", "scale": {"domain": [0, 30], "nice": false, "zero": false}, "axis": {"values": [0, 5, 10, 15, 20, 25, 30], "title": null, "offset": 4}}},
                  "layer": [
                    {"mark": {"type": "line", "color": "#1f77b4", "strokeWidth": 1, "strokeDash": [4, 2]},
                     "encoding": {"y": {"field": "pr", "type": "quantitative", "scale": {"domain": [0, 1.02], "nice": false, "zero": false}, "axis": {"values": [0, 0.2, 0.4, 0.6, 0.8, 1], "format": ".1f", "offset": 3, "title": "Mean M-Score"}}}},
                    {"mark": {"type": "line", "color": "#ff7f0e", "strokeWidth": 1, "strokeDash": [4, 2]},
                     "encoding": {"y": {"field": "qr", "type": "quantitative", "axis": {"values": [0, 0.2, 0.4, 0.6, 0.8, 1], "format": ".1f", "offset": 3, "title": "Mean M-Score"}}}},
                    {"transform": [{"fold": ["Pre", "Post"], "as": ["series", "score"]}],
                     "mark": {"type": "circle", "opacity": 1},
                     "encoding": {
                       "y": {"field": "score", "type": "quantitative", "axis": {"values": [0, 0.2, 0.4, 0.6, 0.8, 1], "format": ".1f", "offset": 3, "title": "Mean M-Score"}},
                       "color": {"field": "series", "type": "nominal", "scale": {"domain": ["Pre", "Post"], "range": ["#1f77b4", "#ff7f0e"]}, "legend": {"orient": "top-right", "direction": "horizontal", "title": null}},
                       "size": {"field": "n", "type": "quantitative", "scale": {"domain": [0, 1000], "range": [0, 50]}, "legend": null}}}
                  ]
                },
                {
                  "width": 163, "height": 150,
                  "view": {"stroke": "#000", "strokeWidth": 1.2},
                  "layer": [
                    {"data": {"name": "gref"},
                     "mark": {"type": "line", "color": "#222", "strokeWidth": 1, "strokeDash": [4, 2]},
                     "encoding": {
                       "x": {"field": "x", "type": "quantitative", "scale": {"domain": [-0.5, 30.5], "nice": false, "zero": false}, "axis": {"values": [0, 5, 10, 15, 20, 25, 30], "title": null, "domain": false}},
                       "y": {"field": "g", "type": "quantitative", "scale": {"domain": [-0.02, 1.02], "nice": false, "zero": false}, "axis": {"values": [0, 0.2, 0.4, 0.6, 0.8, 1], "format": ".1f", "title": "Norm. Gain of Means", "domain": false}}}},
                    {"data": {"name": "bins"},
                     "transform": [{"filter": "datum.p === 'XIII'"}],
                     "mark": {"type": "errorbar", "color": "#333", "thickness": 1.5},
                     "encoding": {
                       "x": {"field": "x", "type": "quantitative", "axis": {"values": [0, 5, 10, 15, 20, 25, 30], "title": null, "domain": false}},
                       "y": {"field": "g", "type": "quantitative", "axis": {"values": [0, 0.2, 0.4, 0.6, 0.8, 1], "format": ".1f", "title": "Norm. Gain of Means", "domain": false}},
                       "yError": {"field": "e"}}},
                    {"data": {"name": "bins"},
                     "transform": [{"filter": "datum.p === 'XIII'"}],
                     "mark": {"type": "circle", "color": "#000", "opacity": 1},
                     "encoding": {
                       "x": {"field": "x", "type": "quantitative", "axis": {"values": [0, 5, 10, 15, 20, 25, 30], "title": null, "domain": false}},
                       "y": {"field": "g", "type": "quantitative", "axis": {"values": [0, 0.2, 0.4, 0.6, 0.8, 1], "format": ".1f", "title": "Norm. Gain of Means", "domain": false}},
                       "size": {"field": "n", "type": "quantitative", "scale": {"domain": [0, 1000], "range": [0, 50]}, "legend": null}}}
                  ]
                }
              ]
            }
          ]
        }
      ]
    },
    {
      "spacing": 6,
      "resolve": {"scale": {"x": "independent", "y": "independent", "color": "independent", "size": "independent"}, "legend": {"color": "independent", "size": "independent"}},
      "hconcat": [
        {
          "title": {"text": "XVII.\u00a0 Continues curving after inward force removed", "anchor": "middle"},
          "resolve": {"scale": {"x": "independent", "y": "independent", "color": "independent", "size": "independent"}, "legend": {"color": "independent", "size": "independent"}},
          "vconcat": [
            {
              "title": {"text": "Mean Pre-test Raw Score", "orient": "bottom", "fontSize": 15, "offset": 5, "anchor": "middle"},
              "spacing": 11,
              "resolve": {"scale": {"x": "independent", "y": "independent", "color": "independent", "size": "independent"}, "legend": {"color": "independent", "size": "independent"}},
              "hconcat": [
                {
                  "width": 158, "height": 148,
                  "data": {"name": "bins"},
                  "transform": [{"filter": "datum.p === 'XVII'"}],
                  "encoding": {"x": {"field": "x", "type": "quantitative", "scale": {"domain": [0, 30], "nice": false, "zero": false}, "axis": {"values": [0, 5, 10, 15, 20, 25, 30], "title": null, "offset": 4}}},
                  "layer": [
                    {"mark": {"type": "line", "color": "#1f77b4", "strokeWidth": 1, "strokeDash": [4, 2]},
                     "encoding": {"y": {"field": "pr", "type": "quantitative", "scale": {"domain": [0, 1.02], "nice": false, "zero": false}, "axis": {"values": [0, 0.2, 0.4, 0.6, 0.8, 1], "format": ".1f", "offset": 3, "title": "Mean M-Score"}}}},
                    {"mark": {"type": "line", "color": "#ff7f0e", "strokeWidth": 1, "strokeDash": [4, 2]},
                     "encoding": {"y": {"field": "qr", "type": "quantitative", "axis": {"values": [0, 0.2, 0.4, 0.6, 0.8, 1], "format": ".1f", "offset": 3, "title": "Mean M-Score"}}}},
                    {"transform": [{"fold": ["Pre", "Post"], "as": ["series", "score"]}],
                     "mark": {"type": "circle", "opacity": 1},
                     "encoding": {
                       "y": {"field": "score", "type": "quantitative", "axis": {"values": [0, 0.2, 0.4, 0.6, 0.8, 1], "format": ".1f", "offset": 3, "title": "Mean M-Score"}},
                       "color": {"field": "series", "type": "nominal", "scale": {"domain": ["Pre", "Post"], "range": ["#1f77b4", "#ff7f0e"]}, "legend": {"orient": "top-right", "direction": "horizontal", "title": null}},
                       "size": {"field": "n", "type": "quantitative", "scale": {"domain": [0, 1000], "range": [0, 50]}, "legend": null}}}
                  ]
                },
                {
                  "width": 163, "height": 150,
                  "view": {"stroke": "#000", "strokeWidth": 1.2},
                  "layer": [
                    {"data": {"name": "gref"},
                     "mark": {"type": "line", "color": "#222", "strokeWidth": 1, "strokeDash": [4, 2]},
                     "encoding": {
                       "x": {"field": "x", "type": "quantitative", "scale": {"domain": [-0.5, 30.5], "nice": false, "zero": false}, "axis": {"values": [0, 5, 10, 15, 20, 25, 30], "title": null, "domain": false}},
                       "y": {"field": "g", "type": "quantitative", "scale": {"domain": [-0.02, 1.02], "nice": false, "zero": false}, "axis": {"values": [0, 0.2, 0.4, 0.6, 0.8, 1], "format": ".1f", "title": "Norm. Gain of Means", "domain": false}}}},
                    {"data": {"name": "bins"},
                     "transform": [{"filter": "datum.p === 'XVII'"}],
                     "mark": {"type": "errorbar", "color": "#333", "thickness": 1.5},
                     "encoding": {
                       "x": {"field": "x", "type": "quantitative", "axis": {"values": [0, 5, 10, 15, 20, 25, 30], "title": null, "domain": false}},
                       "y": {"field": "g", "type": "quantitative", "axis": {"values": [0, 0.2, 0.4, 0.6, 0.8, 1], "format": ".1f", "title": "Norm. Gain of Means", "domain": false}},
                       "yError": {"field": "e"}}},
                    {"data": {"name": "bins"},
                     "transform": [{"filter": "datum.p === 'XVII'"}],
                     "mark": {"type": "circle", "color": "#000", "opacity": 1},
                     "encoding": {
                       "x": {"field": "x", "type": "quantitative", "axis": {"values": [0, 5, 10, 15, 20, 25, 30], "title": null, "domain": false}},
                       "y": {"field": "g", "type": "quantitative", "axis": {"values": [0, 0.2, 0.4, 0.6, 0.8, 1], "format": ".1f", "title": "Norm. Gain of Means", "domain": false}},
                       "size": {"field": "n", "type": "quantitative", "scale": {"domain": [0, 1000], "range": [0, 50]}, "legend": null}}}
                  ]
                }
              ]
            }
          ]
        },
        {
          "title": {"text": "XXVI.\u00a0 Motion diagrams, v and a confused", "anchor": "middle"},
          "resolve": {"scale": {"x": "independent", "y": "independent", "color": "independent", "size": "independent"}, "legend": {"color": "independent", "size": "independent"}},
          "vconcat": [
            {
              "title": {"text": "Mean Pre-test Raw Score", "orient": "bottom", "fontSize": 15, "offset": 5, "anchor": "middle"},
              "spacing": 11,
              "resolve": {"scale": {"x": "independent", "y": "independent", "color": "independent", "size": "independent"}, "legend": {"color": "independent", "size": "independent"}},
              "hconcat": [
                {
                  "width": 158, "height": 148,
                  "data": {"name": "bins"},
                  "transform": [{"filter": "datum.p === 'XXVI'"}],
                  "encoding": {"x": {"field": "x", "type": "quantitative", "scale": {"domain": [0, 30], "nice": false, "zero": false}, "axis": {"values": [0, 5, 10, 15, 20, 25, 30], "title": null, "offset": 4}}},
                  "layer": [
                    {"mark": {"type": "line", "color": "#1f77b4", "strokeWidth": 1, "strokeDash": [4, 2]},
                     "encoding": {"y": {"field": "pr", "type": "quantitative", "scale": {"domain": [0, 1.02], "nice": false, "zero": false}, "axis": {"values": [0, 0.2, 0.4, 0.6, 0.8, 1], "format": ".1f", "offset": 3, "title": "Mean M-Score"}}}},
                    {"mark": {"type": "line", "color": "#ff7f0e", "strokeWidth": 1, "strokeDash": [4, 2]},
                     "encoding": {"y": {"field": "qr", "type": "quantitative", "axis": {"values": [0, 0.2, 0.4, 0.6, 0.8, 1], "format": ".1f", "offset": 3, "title": "Mean M-Score"}}}},
                    {"transform": [{"fold": ["Pre", "Post"], "as": ["series", "score"]}],
                     "mark": {"type": "circle", "opacity": 1},
                     "encoding": {
                       "y": {"field": "score", "type": "quantitative", "axis": {"values": [0, 0.2, 0.4, 0.6, 0.8, 1], "format": ".1f", "offset": 3, "title": "Mean M-Score"}},
                       "color": {"field": "series", "type": "nominal", "scale": {"domain": ["Pre", "Post"], "range": ["#1f77b4", "#ff7f0e"]}, "legend": {"orient": "top-right", "direction": "horizontal", "title": null}},
                       "size": {"field": "n", "type": "quantitative", "scale": {"domain": [0, 1000], "range": [0, 50]}, "legend": null}}}
                  ]
                },
                {
                  "width": 163, "height": 150,
                  "view": {"stroke": "#000", "strokeWidth": 1.2},
                  "layer": [
                    {"data": {"name": "gref"},
                     "mark": {"type": "line", "color": "#222", "strokeWidth": 1, "strokeDash": [4, 2]},
                     "encoding": {
                       "x": {"field": "x", "type": "quantitative", "scale": {"domain": [-0.5, 30.5], "nice": false, "zero": false}, "axis": {"values": [0, 5, 10, 15, 20, 25, 30], "title": null, "domain": false}},
                       "y": {"field": "g", "type": "quantitative", "scale": {"domain": [-0.02, 1.02], "nice": false, "zero": false}, "axis": {"values": [0, 0.2, 0.4, 0.6, 0.8, 1], "format": ".1f", "title": "Norm. Gain of Means", "domain": false}}}},
                    {"data": {"name": "bins"},
                     "transform": [{"filter": "datum.p === 'XXVI'"}],
                     "mark": {"type": "errorbar", "color": "#333", "thickness": 1.5},
                     "encoding": {
                       "x": {"field": "x", "type": "quantitative", "axis": {"values": [0, 5, 10, 15, 20, 25, 30], "title": null, "domain": false}},
                       "y": {"field": "g", "type": "quantitative", "axis": {"values": [0, 0.2, 0.4, 0.6, 0.8, 1], "format": ".1f", "title": "Norm. Gain of Means", "domain": false}},
                       "yError": {"field": "e"}}},
                    {"data": {"name": "bins"},
                     "transform": [{"filter": "datum.p === 'XXVI'"}],
                     "mark": {"type": "circle", "color": "#000", "opacity": 1},
                     "encoding": {
                       "x": {"field": "x", "type": "quantitative", "axis": {"values": [0, 5, 10, 15, 20, 25, 30], "title": null, "domain": false}},
                       "y": {"field": "g", "type": "quantitative", "axis": {"values": [0, 0.2, 0.4, 0.6, 0.8, 1], "format": ".1f", "title": "Norm. Gain of Means", "domain": false}},
                       "size": {"field": "n", "type": "quantitative", "scale": {"domain": [0, 1000], "range": [0, 50]}, "legend": null}}}
                  ]
                }
              ]
            }
          ]
        }
      ]
    }
  ]
}
